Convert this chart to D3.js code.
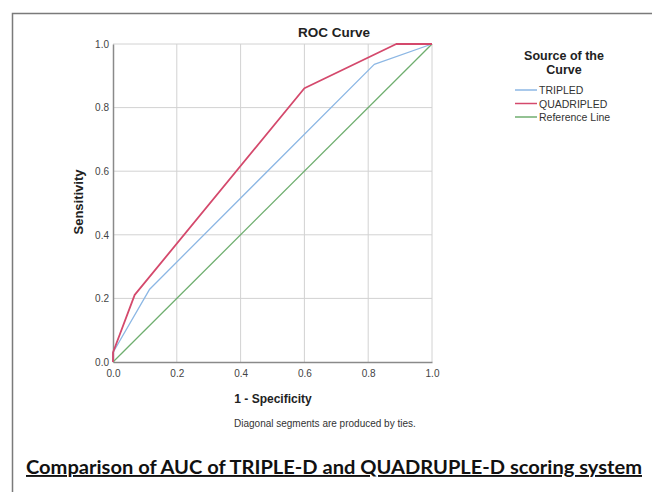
<!DOCTYPE html>
<html>
<head>
<meta charset="utf-8">
<script src="https://cdn.jsdelivr.net/npm/d3@7"></script>
<style>
  body { margin: 0; background: #fff; }
  svg { display: block; font-family: "Liberation Sans", Arial, sans-serif; }
</style>
</head>
<body>
<script>
// ROC points, [1 - specificity, sensitivity]
const tripled = [[0, 0], [0, 0.03], [0.115, 0.229], [0.819, 0.936], [1, 1]];
const quadripled = [[0, 0], [0, 0.03], [0.068, 0.211], [0.6, 0.861], [0.888, 1], [1, 1]];
const reference = [[0, 0], [1, 1]];
const tickValues = [0, 0.2, 0.4, 0.6, 0.8, 1.0];
const seriesNames = ["TRIPLED", "QUADRIPLED", "Reference Line"];

const W = 652, H = 492;
//plot box
const pd = { left: 113, right: 432, top: 44, bottom: 362 };
const colors = ["#8cb7e4", "#d4496c", "#6fae6f"];
const widths = [1.3, 1.8, 1.3];

const svg = d3.select("body").append("svg").attr("width", W).attr("height", H);

//page frame (top + left only)
svg.append("path")
  .attr("d", "M12.5," + H + " V13.5 H" + W)
  .attr("fill", "none").attr("stroke", "#7a7a7a").attr("stroke-width", 1.5);

const x = d3.scaleLinear().domain([0, 1]).range([pd.left, pd.right]);
const y = d3.scaleLinear().domain([0, 1]).range([pd.bottom, pd.top]);

//grid
const grid = svg.append("g");
grid.selectAll(".gx").data(tickValues.slice(1)).enter().append("line")
  .attr("x1", (d) => x(d)).attr("x2", (d) => x(d))
  .attr("y1", pd.top).attr("y2", pd.bottom)
  .attr("stroke", "#d2d2d2").attr("stroke-width", 1);
grid.selectAll(".gy").data(tickValues.slice(1)).enter().append("line")
  .attr("x1", pd.left).attr("x2", pd.right)
  .attr("y1", (d) => y(d)).attr("y2", (d) => y(d))
  .attr("stroke", "#d2d2d2").attr("stroke-width", 1);

//axes
const xAxis = d3.axisBottom(x).tickValues(tickValues).tickFormat(d3.format(".1f")).tickSize(0).tickPadding(8);
const yAxis = d3.axisLeft(y).tickValues(tickValues).tickFormat(d3.format(".1f")).tickSize(0).tickPadding(4);

const gx = svg.append("g").attr("transform", "translate(0," + pd.bottom + ")").call(xAxis);
const gy = svg.append("g").attr("transform", "translate(" + pd.left + ",0)").call(yAxis);
[gx, gy].forEach((g) => {
  g.attr("font-size", 10).attr("font-family", "Liberation Sans, Arial, sans-serif");
  g.select(".domain").attr("stroke", "#8a8a8a").attr("stroke-width", 1.5);
  g.selectAll("text").attr("fill", "#444");
});

//curves
const line = d3.line().x((d) => x(d[0])).y((d) => y(d[1]));
[reference, tripled, quadripled].forEach((s, i) => {
  const k = [2, 0, 1][i];
  svg.append("path").datum(s)
    .attr("d", line)
    .attr("fill", "none")
    .attr("stroke", colors[k])
    .attr("stroke-width", widths[k])
    .attr("stroke-linejoin", "round");
});

//titles
svg.append("text").attr("x", 334).attr("y", 37).attr("text-anchor", "middle")
  .attr("font-size", "13.5px").attr("font-weight", "bold").attr("fill", "#222").text("ROC Curve");
svg.append("text").attr("transform", "translate(83," + 202 + ") rotate(-90)")
  .attr("text-anchor", "middle").attr("font-size", "13px").attr("font-weight", "bold")
  .attr("fill", "#222").text("Sensitivity");
svg.append("text").attr("x", 273).attr("y", 403).attr("text-anchor", "middle")
  .attr("font-size", "12px").attr("font-weight", "bold").attr("fill", "#222").text("1 - Specificity");
svg.append("text").attr("x", 234).attr("y", 427)
  .attr("font-size", "10px").attr("fill", "#333").text("Diagonal segments are produced by ties.");

//legend
const lg = svg.append("g");
lg.append("text").attr("x", 564).attr("y", 60).attr("text-anchor", "middle")
  .attr("font-size", "12.5px").attr("font-weight", "bold").attr("fill", "#222").text("Source of the");
lg.append("text").attr("x", 564).attr("y", 74).attr("text-anchor", "middle")
  .attr("font-size", "12.5px").attr("font-weight", "bold").attr("fill", "#222").text("Curve");
seriesNames.forEach((n, i) => {
  const yy = 90 + i * 13.5;
  lg.append("line").attr("x1", 515).attr("x2", 537).attr("y1", yy).attr("y2", yy)
    .attr("stroke", colors[i]).attr("stroke-width", 1.5);
  lg.append("text").attr("x", 539).attr("y", yy + 4).attr("font-size", "10.5px")
    .attr("fill", "#333").text(n);
});

//caption
svg.append("text").attr("x", 26).attr("y", 474)
  .attr("font-family", "Lato, 'Open Sans', sans-serif")
  .attr("font-size", "19px").attr("font-weight", "bold").attr("fill", "#111")
  .attr("text-decoration", "underline")
  .attr("textLength", 616).attr("lengthAdjust", "spacingAndGlyphs")
  .text("Comparison of AUC of TRIPLE-D and QUADRUPLE-D scoring system");
</script>
</body>
</html>
